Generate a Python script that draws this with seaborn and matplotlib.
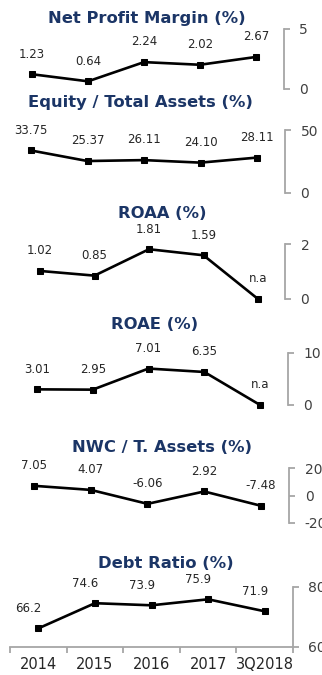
import numpy as np
import pandas as pd
import matplotlib
matplotlib.use("Agg")
import matplotlib.pyplot as plt
import seaborn as sns

# ---- data ----
periods = ["2014", "2015", "2016", "2017", "3Q2018"]

net_profit_margin = [1.23, 0.64, 2.24, 2.02, 2.67]
equity_to_assets = [33.75, 25.37, 26.11, 24.10, 28.11]
roaa = [1.02, 0.85, 1.81, 1.59, None]
roae = [3.01, 2.95, 7.01, 6.35, None]
nwc_to_assets = [7.05, 4.07, -6.06, 2.92, -7.48]
debt_ratio = [66.2, 74.6, 73.9, 75.9, 71.9]

titles = ["Net Profit Margin (%)", "Equity / Total Assets (%)", "ROAA (%)",
          "ROAE (%)", "NWC / T. Assets (%)", "Debt Ratio (%)"]
series = [net_profit_margin, equity_to_assets, roaa, roae, nwc_to_assets, debt_ratio]
y_ticks = [[0, 5], [0, 50], [0, 2], [0, 10], [-20, 0, 20], [60, 80]]
decimals = [2, 2, 2, 2, 2, 1]

# ---- layout (pixels) ----
W, H = 322, 675
boxes = [  # left, right, top, bottom
    (4, 284, 29, 89),
    (2.75, 285.25, 130, 193),
    (12.75, 285.25, 244, 299),
    (9, 288, 353, 405),
    (5.6, 289.4, 468, 523),
    (10, 293, 587, 647),
]
title_pos = [(147, 18), (140, 103), (162, 213), (155, 325), (162, 448), (166, 563)]
label_dx = [0, 0, 0, 0, 0, -7]

sns.set_theme(style="white")
plt.rcParams["font.family"] = ["DejaVu Sans"]

navy = "#1B3566"
gray = "#A6A6A6"
text_col = "#262626"

fig = plt.figure(figsize=(W / 100, H / 100), dpi=100)
fig.patch.set_facecolor("white")

for i, (vals, title, yt, dec) in enumerate(zip(series, titles, y_ticks, decimals)):
    l, r, t, b = boxes[i]
    ax = fig.add_axes([l / W, 1 - b / H, (r - l) / W, (b - t) / H])
    ax.set_facecolor("none")
    plotted = [0.0 if v is None else v for v in vals]
    df = pd.DataFrame({"x": np.arange(len(periods)), "y": plotted})
    sns.lineplot(data=df, x="x", y="y", ax=ax, color="black", linewidth=1.9,
                 marker="s", markersize=5, markeredgecolor="black", clip_on=False)
    ax.set_xlim(-0.5, len(periods) - 0.5)
    ax.set_ylim(yt[0], yt[-1])
    ax.set_xlabel("")
    ax.set_ylabel("")

    for xi, (v, pv) in enumerate(zip(vals, plotted)):
        txt = "n.a" if v is None else f"{v:.{dec}f}"
        ax.annotate(txt, (xi, pv), xytext=(label_dx[i], 14.5), textcoords="offset points",
                    ha="center", va="center", fontsize=8.5, color=text_col)

    for s in ["top", "left"]:
        ax.spines[s].set_visible(False)
    ax.spines["right"].set_visible(True)
    ax.spines["right"].set_color(gray)
    ax.spines["right"].set_linewidth(1.3)
    ax.yaxis.tick_right()
    ax.set_yticks(yt)
    ax.set_yticklabels([f"{v:g}" for v in yt])
    ax.tick_params(axis="y", which="major", direction="out", length=4, width=1.3,
                   color=gray, pad=7, labelsize=10, labelcolor="#404040", right=True)

    if i < len(series) - 1:
        ax.spines["bottom"].set_visible(False)
        ax.set_xticks([])
    else:
        ax.spines["bottom"].set_visible(True)
        ax.spines["bottom"].set_color(gray)
        ax.spines["bottom"].set_linewidth(1.3)
        ax.set_xticks(np.arange(len(periods)))
        ax.set_xticklabels(periods)
        ax.set_xticks(np.arange(len(periods) + 1) - 0.5, minor=True)
        ax.tick_params(axis="x", which="major", length=0, pad=7, labelsize=10.5,
                       labelcolor="#262626", bottom=True)
        ax.tick_params(axis="x", which="minor", direction="out", length=4, width=1.3,
                       color=gray, bottom=True)

    tx, ty = title_pos[i]
    fig.text(tx / W, 1 - ty / H, title, ha="center", va="center",
             fontsize=11.8, fontweight="bold", color=navy)

fig.savefig("out.png", dpi=100, facecolor="white")
